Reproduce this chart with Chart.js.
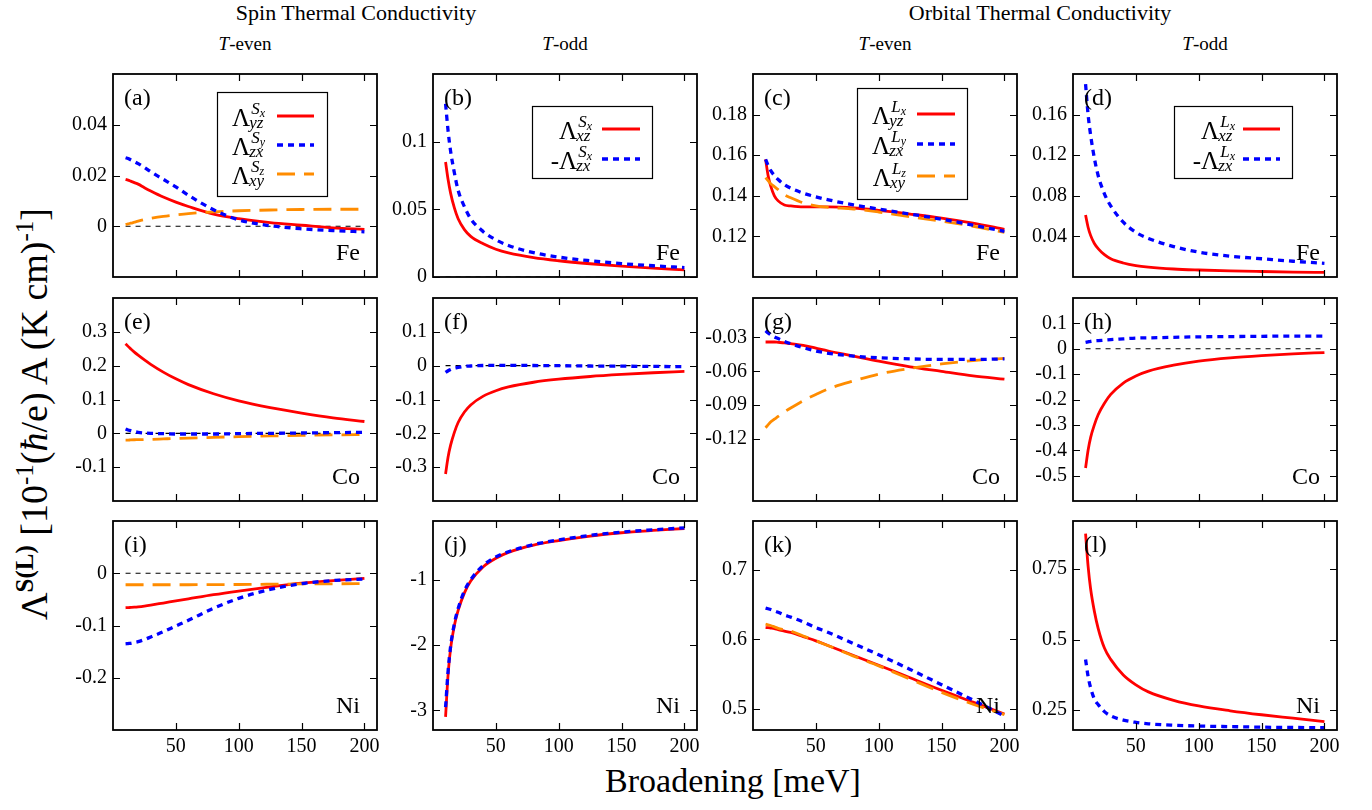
<!DOCTYPE html>
<html>
<head>
<meta charset="utf-8">
<script src="https://cdn.jsdelivr.net/npm/chart.js@4"></script>
<style>
  body { margin: 0; background: #fff; }
  #fig { position: relative; width: 1372px; height: 810px; overflow: hidden; background: #fff;
         font-family: "Liberation Serif", "Times New Roman", serif; color: #000; }
  #fig canvas { position: absolute; }
  .txt { position: absolute; white-space: nowrap; transform: translateX(-50%); }
  #ylab { position: absolute; left: 33px; top: 414px; font-size: 38px; white-space: nowrap;
          transform: translate(-50%, -50%) rotate(-90deg); }
  #ylab sup { font-size: 25px; vertical-align: 14px; }
</style>
</head>
<body>
<div id="fig">
  <div class="txt" style="left:356px; top:0px; font-size:22px">Spin Thermal Conductivity</div>
  <div class="txt" style="left:1040px; top:0px; font-size:22px">Orbital Thermal Conductivity</div>
  <div class="txt" style="left:245px; top:33px; font-size:19px"><i>T</i>-even</div>
  <div class="txt" style="left:565px; top:33px; font-size:19px"><i>T</i>-odd</div>
  <div class="txt" style="left:885px; top:33px; font-size:19px"><i>T</i>-even</div>
  <div class="txt" style="left:1205px; top:33px; font-size:19px"><i>T</i>-odd</div>
  <div id="ylab">Λ<sup><b>S(L)</b></sup> [10<sup>-1</sup>(<i>ħ</i>/e) A (K cm)<sup>-1</sup>]</div>
  <div class="txt" style="left:733px; top:762px; font-size:34px">Broadening [meV]</div>
</div>
<script>
// broadening grid (meV), shared by every curve
const X = [10, 12, 14, 17, 20, 25, 30, 40, 50, 60, 80, 100, 125, 150, 175, 200];
const X_TICKS = [50, 100, 150, 200];
const ZERO_LINE = [0, 0, 0, 0, 0, 0, 0, 0, 0, 0, 0, 0, 0, 0, 0, 0];

// (a) spin, T-even, Fe
const A_RED    = [0.0185, 0.0182, 0.0178, 0.0172, 0.0166, 0.0152, 0.0139, 0.0115, 0.0095, 0.0078, 0.0048, 0.003, 0.0014, 0.0004, -0.0006, -0.0012];
const A_BLUE   = [0.027, 0.0267, 0.0262, 0.0255, 0.0247, 0.0232, 0.0215, 0.0185, 0.0155, 0.0122, 0.0065, 0.0025, 0.0002, -0.001, -0.0017, -0.0022];
const A_ORANGE = [0.0007, 0.0009, 0.0012, 0.0016, 0.002, 0.0026, 0.0031, 0.0039, 0.0045, 0.005, 0.0057, 0.0061, 0.0064, 0.0066, 0.0067, 0.0067];
const A_TICKS  = [0, 0.02, 0.04];
// (b) spin, T-odd, Fe
const B_RED    = [0.085, 0.072, 0.062, 0.051, 0.043, 0.035, 0.030, 0.0245, 0.0205, 0.0178, 0.0143, 0.012, 0.0098, 0.008, 0.0065, 0.0052];
const B_BLUE   = [0.128, 0.108, 0.093, 0.077, 0.064, 0.052, 0.043, 0.0335, 0.0275, 0.0233, 0.018, 0.0147, 0.012, 0.0099, 0.0083, 0.007];
const B_TICKS  = [0, 0.05, 0.1];
// (c) orbital, T-even, Fe
const C_RED    = [0.158, 0.150, 0.145, 0.140, 0.1375, 0.1355, 0.135, 0.1345, 0.1345, 0.1345, 0.134, 0.1328, 0.131, 0.129, 0.1265, 0.1235];
const C_BLUE   = [0.158, 0.155, 0.1525, 0.150, 0.148, 0.1455, 0.1438, 0.1413, 0.1395, 0.138, 0.1355, 0.1335, 0.131, 0.1285, 0.1255, 0.1225];
const C_ORANGE = [0.149, 0.1475, 0.146, 0.1445, 0.143, 0.1405, 0.139, 0.1365, 0.135, 0.1343, 0.1335, 0.132, 0.1297, 0.1275, 0.125, 0.122];
const C_TICKS  = [0.12, 0.14, 0.16, 0.18];
// (d) orbital, T-odd, Fe
const D_RED    = [0.061, 0.049, 0.041, 0.033, 0.028, 0.022, 0.018, 0.0138, 0.0112, 0.0097, 0.0079, 0.0069, 0.006, 0.0054, 0.0049, 0.0045];
const D_BLUE   = [0.19, 0.16, 0.14, 0.117, 0.1, 0.082, 0.07, 0.054, 0.044, 0.038, 0.03, 0.0245, 0.0205, 0.018, 0.0155, 0.0135];
const D_TICKS  = [0.04, 0.08, 0.12, 0.16];
// (e) spin, T-even, Co
const E_RED    = [0.265, 0.257, 0.25, 0.24, 0.231, 0.217, 0.204, 0.181, 0.161, 0.144, 0.117, 0.096, 0.076, 0.06, 0.046, 0.035];
const E_BLUE   = [0.013, 0.01, 0.008, 0.005, 0.003, 0.001, 0.0, -0.001, -0.002, -0.002, -0.002, -0.001, 0.0, 0.001, 0.002, 0.003];
const E_ORANGE = [-0.02, -0.02, -0.0195, -0.019, -0.0188, -0.0183, -0.0178, -0.0165, -0.0152, -0.014, -0.0118, -0.0098, -0.0078, -0.0061, -0.0048, -0.0038];
const E_TICKS  = [-0.1, 0, 0.1, 0.2, 0.3];
// (f) spin, T-odd, Co
const F_RED    = [-0.32, -0.27, -0.235, -0.197, -0.168, -0.137, -0.116, -0.09, -0.074, -0.063, -0.049, -0.04, -0.032, -0.026, -0.021, -0.017];
const F_BLUE   = [-0.02, -0.015, -0.011, -0.007, -0.005, -0.002, -0.001, 0.0005, 0.001, 0.001, 0.0005, 0.0, -0.001, -0.0015, -0.0022, -0.003];
const F_TICKS  = [-0.3, -0.2, -0.1, 0, 0.1];
// (g) orbital, T-even, Co
const G_RED    = [-0.034, -0.034, -0.034, -0.034, -0.0343, -0.0348, -0.0355, -0.037, -0.0395, -0.042, -0.0465, -0.051, -0.056, -0.060, -0.064, -0.067];
const G_BLUE   = [-0.024, -0.026, -0.0275, -0.0295, -0.031, -0.0335, -0.0355, -0.039, -0.042, -0.044, -0.0465, -0.048, -0.049, -0.0495, -0.0495, -0.049];
const G_ORANGE = [-0.11, -0.1075, -0.105, -0.1025, -0.1, -0.096, -0.0925, -0.086, -0.0805, -0.0755, -0.0685, -0.0625, -0.0575, -0.0535, -0.0505, -0.0485];
const G_TICKS  = [-0.12, -0.09, -0.06, -0.03];
// (h) orbital, T-odd, Co
const H_RED    = [-0.47, -0.40, -0.35, -0.30, -0.26, -0.215, -0.18, -0.135, -0.107, -0.088, -0.065, -0.049, -0.036, -0.027, -0.02, -0.015];
const H_BLUE   = [0.025, 0.027, 0.029, 0.031, 0.032, 0.034, 0.036, 0.039, 0.042, 0.043, 0.045, 0.047, 0.048, 0.049, 0.05, 0.05];
const H_TICKS  = [-0.5, -0.4, -0.3, -0.2, -0.1, 0, 0.1];
// (i) spin, T-even, Ni
const I_RED    = [-0.066, -0.0658, -0.0655, -0.065, -0.0643, -0.0628, -0.061, -0.057, -0.053, -0.049, -0.041, -0.034, -0.026, -0.019, -0.014, -0.01];
const I_BLUE   = [-0.135, -0.1345, -0.134, -0.1325, -0.131, -0.127, -0.122, -0.112, -0.101, -0.09, -0.067, -0.048, -0.031, -0.02, -0.014, -0.011];
const I_ORANGE = [-0.022, -0.022, -0.022, -0.022, -0.022, -0.022, -0.022, -0.022, -0.022, -0.022, -0.0218, -0.0215, -0.021, -0.0205, -0.0202, -0.02];
const I_TICKS  = [-0.2, -0.1, 0];
// (j) spin, T-odd, Ni
const J_RED    = [-3.1, -2.45, -2.05, -1.7, -1.47, -1.2, -1.02, -0.8, -0.67, -0.58, -0.47, -0.4, -0.33, -0.28, -0.245, -0.215];
const J_BLUE   = [-2.95, -2.4, -2.02, -1.67, -1.44, -1.17, -1.0, -0.78, -0.65, -0.57, -0.46, -0.39, -0.32, -0.27, -0.235, -0.205];
const J_TICKS  = [-3, -2, -1];
// (k) orbital, T-even, Ni
const K_RED    = [0.617, 0.6168, 0.6163, 0.6155, 0.614, 0.612, 0.61, 0.604, 0.598, 0.591, 0.577, 0.563, 0.545, 0.527, 0.51, 0.493];
const K_BLUE   = [0.645, 0.644, 0.643, 0.641, 0.639, 0.635, 0.632, 0.625, 0.617, 0.61, 0.594, 0.578, 0.557, 0.535, 0.513, 0.49];
const K_ORANGE = [0.622, 0.621, 0.62, 0.618, 0.616, 0.614, 0.612, 0.605, 0.598, 0.591, 0.576, 0.562, 0.543, 0.524, 0.507, 0.492];
const K_TICKS  = [0.5, 0.6, 0.7];
// (l) orbital, T-odd, Ni
const L_RED    = [0.875, 0.76, 0.68, 0.6, 0.54, 0.47, 0.43, 0.375, 0.34, 0.315, 0.285, 0.265, 0.248, 0.234, 0.222, 0.21];
const L_BLUE   = [0.43, 0.37, 0.33, 0.29, 0.27, 0.245, 0.23, 0.215, 0.207, 0.202, 0.197, 0.194, 0.192, 0.19, 0.189, 0.188];
const L_TICKS  = [0.25, 0.5, 0.75];

// legend symbols: sign, Λ superscript (with its own subscript), subscript
const LEG_S3 = [{ sign: '', sup: 'S', supSub: 'x', sub: 'yz' }, { sign: '', sup: 'S', supSub: 'y', sub: 'zx' }, { sign: '', sup: 'S', supSub: 'z', sub: 'xy' }];
const LEG_S2 = [{ sign: '', sup: 'S', supSub: 'x', sub: 'xz' }, { sign: '-', sup: 'S', supSub: 'x', sub: 'zx' }];
const LEG_L3 = [{ sign: '', sup: 'L', supSub: 'x', sub: 'yz' }, { sign: '', sup: 'L', supSub: 'y', sub: 'zx' }, { sign: '', sup: 'L', supSub: 'z', sub: 'xy' }];
const LEG_L2 = [{ sign: '', sup: 'L', supSub: 'x', sub: 'xz' }, { sign: '-', sup: 'L', supSub: 'x', sub: 'zx' }];

const SERIF = '"Liberation Serif", "Times New Roman", serif';
const COL_LEFT = [113, 433, 753, 1073];
const ROW_TOP = [68, 292, 515];
const PW = 264, PH = 215;
const PAD_L = 70, PAD_T = 12, PAD_R = 14;

const STYLES = {
  zero:   { borderColor: '#000000', borderWidth: 1.1, borderDash: [5, 5] },
  red:    { borderColor: '#ff0000', borderWidth: 2.8, borderDash: [] },
  blue:   { borderColor: '#0000ff', borderWidth: 3.3, borderDash: [6, 5] },
  orange: { borderColor: '#ff8c00', borderWidth: 2.8, borderDash: [18, 9] },
};
const ORDER = { zero: 4, red: 3, orange: 2, blue: 1 };

const LEG_BIG3 = { left: 104, top: 18, width: 110, height: 104, textRight: 48, lineFrom: 60, lineTo: 97, rows: [24, 53, 82] };

const PANELS = [
  { letter: 'a', metal: 'Fe', row: 0, col: 0, yMin: -0.02, yMax: 0.06, yTicks: A_TICKS,
    lines: [['zero', ZERO_LINE], ['red', A_RED], ['blue', A_BLUE], ['orange', A_ORANGE]],
    legend: Object.assign({ entries: LEG_S3, sets: [1, 2, 3] }, LEG_BIG3) },
  { letter: 'b', metal: 'Fe', row: 0, col: 1, yMin: 0, yMax: 0.15, yTicks: B_TICKS,
    lines: [['zero', ZERO_LINE], ['red', B_RED], ['blue', B_BLUE]],
    legend: { entries: LEG_S2, sets: [1, 2], left: 99, top: 32, width: 120, height: 72, textRight: 60, lineFrom: 70, lineTo: 108, rows: [23, 53] } },
  { letter: 'c', metal: 'Fe', row: 0, col: 2, yMin: 0.10, yMax: 0.20, yTicks: C_TICKS,
    lines: [['red', C_RED], ['blue', C_BLUE], ['orange', C_ORANGE]],
    legend: { entries: LEG_L3, sets: [0, 1, 2], left: 104, top: 14, width: 110, height: 111, textRight: 49, lineFrom: 60, lineTo: 98, rows: [26, 56, 88] } },
  { letter: 'd', metal: 'Fe', row: 0, col: 3, yMin: 0, yMax: 0.2, yTicks: D_TICKS,
    lines: [['red', D_RED], ['blue', D_BLUE]],
    legend: { entries: LEG_L2, sets: [0, 1], left: 101, top: 32, width: 118, height: 72, textRight: 61, lineFrom: 69, lineTo: 106, rows: [23, 53] } },
  { letter: 'e', metal: 'Co', row: 1, col: 0, yMin: -0.2, yMax: 0.4, yTicks: E_TICKS,
    lines: [['zero', ZERO_LINE], ['red', E_RED], ['blue', E_BLUE], ['orange', E_ORANGE]] },
  { letter: 'f', metal: 'Co', row: 1, col: 1, yMin: -0.4, yMax: 0.2, yTicks: F_TICKS,
    lines: [['zero', ZERO_LINE], ['red', F_RED], ['blue', F_BLUE]] },
  { letter: 'g', metal: 'Co', row: 1, col: 2, yMin: -0.175, yMax: 0.005, yTicks: G_TICKS,
    lines: [['red', G_RED], ['blue', G_BLUE], ['orange', G_ORANGE]] },
  { letter: 'h', metal: 'Co', row: 1, col: 3, yMin: -0.6, yMax: 0.2, yTicks: H_TICKS,
    lines: [['zero', ZERO_LINE], ['red', H_RED], ['blue', H_BLUE]] },
  { letter: 'i', metal: 'Ni', row: 2, col: 0, yMin: -0.3, yMax: 0.1, yTicks: I_TICKS,
    lines: [['zero', ZERO_LINE], ['red', I_RED], ['blue', I_BLUE], ['orange', I_ORANGE]] },
  { letter: 'j', metal: 'Ni', row: 2, col: 1, yMin: -3.3, yMax: -0.1, yTicks: J_TICKS,
    lines: [['red', J_RED], ['blue', J_BLUE]] },
  { letter: 'k', metal: 'Ni', row: 2, col: 2, yMin: 0.47, yMax: 0.77, yTicks: K_TICKS,
    lines: [['red', K_RED], ['blue', K_BLUE], ['orange', K_ORANGE]] },
  { letter: 'l', metal: 'Ni', row: 2, col: 3, yMin: 0.18, yMax: 0.92, yTicks: L_TICKS,
    lines: [['red', L_RED], ['blue', L_BLUE]] },
];

function fmt(v) { return String(+v.toFixed(4)); }

// box border, inward ticks on all four sides, panel letter and element name
const framePlugin = {
  id: 'gnuFrame',
  afterDraw(chart, args, o) {
    const { ctx, chartArea: a, scales } = chart;
    ctx.save();
    ctx.setLineDash([]);
    ctx.strokeStyle = '#000';
    ctx.lineWidth = 1.2;
    ctx.beginPath();
    scales.x.ticks.forEach(t => {
      const px = Math.round(scales.x.getPixelForValue(t.value)) + 0.5;
      ctx.moveTo(px, a.bottom); ctx.lineTo(px, a.bottom - 7);
      ctx.moveTo(px, a.top); ctx.lineTo(px, a.top + 7);
    });
    scales.y.ticks.forEach(t => {
      const py = Math.round(scales.y.getPixelForValue(t.value)) + 0.5;
      ctx.moveTo(a.left, py); ctx.lineTo(a.left + 7, py);
      ctx.moveTo(a.right, py); ctx.lineTo(a.right - 7, py);
    });
    ctx.stroke();
    ctx.lineWidth = 1.8;
    ctx.strokeRect(a.left, a.top, a.right - a.left, a.bottom - a.top);
    ctx.fillStyle = '#000';
    ctx.font = '24px ' + SERIF;
    ctx.textBaseline = 'alphabetic';
    ctx.textAlign = 'left';
    ctx.fillText('(' + o.letter + ')', a.left + 11, a.top + 31);
    ctx.textAlign = 'right';
    ctx.fillText(o.metal, a.right - 17, a.bottom - 17);
    ctx.restore();
  }
};

function drawSymbol(ctx, e, right, y) {
  const supFont = 'italic 17px ' + SERIF;
  const tinyFont = 'italic 12px ' + SERIF;
  ctx.font = supFont;
  const wSup = ctx.measureText(e.sup).width;
  const wSub = ctx.measureText(e.sub).width;
  ctx.font = tinyFont;
  const wTiny = ctx.measureText(e.supSub).width;
  const bx = right - Math.max(wSup + wTiny + 1, wSub);
  ctx.textAlign = 'left';
  ctx.font = supFont;
  ctx.fillText(e.sup, bx + 1, y - 2);
  ctx.fillText(e.sub, bx - 1, y + 12);
  ctx.font = tinyFont;
  ctx.fillText(e.supSub, bx + wSup + 1, y + 1);
  ctx.font = '25px ' + SERIF;
  ctx.textAlign = 'right';
  ctx.fillText(e.sign + 'Λ', bx, y + 10);
}

// framed key with stacked super/subscripts, line samples taken from the datasets
const legendPlugin = {
  id: 'boxLegend',
  afterDraw(chart, args, o) {
    if (!o || !o.entries) return;
    const { ctx, chartArea: a } = chart;
    const x0 = a.left + o.left, y0 = a.top + o.top;
    ctx.save();
    ctx.fillStyle = '#fff';
    ctx.fillRect(x0, y0, o.width, o.height);
    ctx.strokeStyle = '#000';
    ctx.lineWidth = 1.2;
    ctx.setLineDash([]);
    ctx.strokeRect(x0 + 0.5, y0 + 0.5, o.width, o.height);
    o.entries.forEach((e, i) => {
      const ds = chart.data.datasets[o.sets[i]];
      const y = y0 + o.rows[i];
      ctx.strokeStyle = ds.borderColor;
      ctx.lineWidth = ds.borderWidth;
      ctx.setLineDash(ds.borderDash);
      ctx.beginPath();
      ctx.moveTo(x0 + o.lineFrom, y);
      ctx.lineTo(x0 + o.lineTo, y);
      ctx.stroke();
      ctx.setLineDash([]);
      ctx.fillStyle = '#000';
      drawSymbol(ctx, e, x0 + o.textRight, y);
    });
    ctx.restore();
  }
};

function makeDataset(kind, values) {
  return Object.assign({
    data: X.map((x, i) => ({ x: x, y: values[i] })),
    pointRadius: 0,
    fill: false,
    cubicInterpolationMode: 'monotone',
    borderCapStyle: 'butt',
    order: ORDER[kind],
  }, STYLES[kind]);
}

const fig = document.getElementById('fig');
const tickFont = { family: SERIF, size: 20 };

function buildPanel(p) {
  const bottomRow = p.row === 2;
  const w = PAD_L + PW + PAD_R;
  const h = PAD_T + PH + (bottomRow ? 34 : 12);
  const cv = document.createElement('canvas');
  cv.width = w; cv.height = h;
  cv.style.width = w + 'px'; cv.style.height = h + 'px';
  cv.style.left = (COL_LEFT[p.col] - PAD_L) + 'px';
  cv.style.top = (ROW_TOP[p.row] - PAD_T) + 'px';
  fig.appendChild(cv);

  new Chart(cv, {
    type: 'line',
    data: { datasets: p.lines.map(([k, v]) => makeDataset(k, v)) },
    options: {
      responsive: false,
      animation: false,
      devicePixelRatio: 1,
      layout: { padding: { left: 0, top: PAD_T, right: PAD_R, bottom: bottomRow ? 0 : 12 } },
      plugins: {
        legend: { display: false },
        tooltip: { enabled: false },
        gnuFrame: { letter: p.letter, metal: p.metal },
        boxLegend: p.legend || {},
      },
      scales: {
        x: {
          type: 'linear', min: 0, max: 210,
          afterBuildTicks: s => { s.ticks = X_TICKS.map(v => ({ value: v })); },
          afterFit: s => { s.height = bottomRow ? 34 : 0; },
          grid: { display: false, drawTicks: false },
          border: { display: false },
          ticks: { display: bottomRow, color: '#000', font: tickFont, padding: 5, maxRotation: 0, autoSkip: false },
        },
        y: {
          type: 'linear', min: p.yMin, max: p.yMax,
          afterBuildTicks: s => { s.ticks = p.yTicks.map(v => ({ value: v })); },
          afterFit: s => { s.width = PAD_L; },
          grid: { display: false, drawTicks: false },
          border: { display: false },
          ticks: { color: '#000', font: tickFont, padding: 6, autoSkip: false, callback: v => fmt(v) },
        },
      },
    },
    plugins: [framePlugin, legendPlugin],
  });
}

PANELS.forEach(buildPanel);
</script>
</body>
</html>
